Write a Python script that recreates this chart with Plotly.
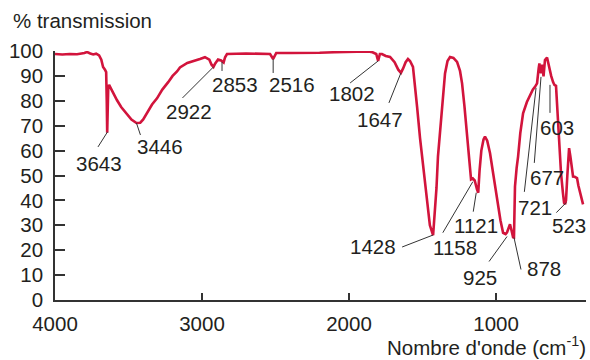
import plotly.graph_objects as go

# IR spectrum: wavenumber (cm-1) vs % transmission
wavenumber = [
    4000, 3950, 3900, 3850, 3800, 3782, 3760, 3740, 3720, 3700, 3685, 3673, 3660, 3652,
    3648, 3645, 3642, 3638, 3632, 3620, 3600, 3578, 3550, 3510, 3480, 3446, 3420, 3400,
    3370, 3340, 3306, 3270, 3230, 3200, 3170, 3150, 3100, 3050, 3014, 2980, 2950, 2935,
    2922, 2910, 2891, 2870, 2853, 2843, 2830, 2700, 2600, 2537, 2516, 2495, 2400, 2300,
    2200, 2100, 2014, 1950, 1900, 1870, 1840, 1815, 1802, 1790, 1776, 1750, 1721, 1690,
    1665, 1647, 1632, 1615, 1599, 1585, 1565, 1550, 1537, 1517, 1503, 1485, 1469, 1450,
    1428, 1415, 1405, 1395, 1380, 1367, 1347, 1330, 1313, 1290, 1265, 1245, 1231, 1215,
    1197, 1180, 1170, 1158, 1145, 1130, 1121, 1112, 1100, 1085, 1075, 1060, 1041, 1020,
    993, 970, 952, 935, 925, 912, 905, 895, 884, 878, 871, 860, 850, 835, 816, 790, 769,
    750, 735, 721, 710, 705, 694, 685, 677, 667, 653, 640, 625, 612, 603, 592, 585, 578,
    568, 558, 545, 537, 530, 524, 515, 503, 495, 483, 476, 465, 449, 440, 429, 415, 408,
]
transmission = [
    98.8, 98.6, 98.8, 98.7, 99.2, 99.6, 99.0, 98.6, 98.9, 98.2, 96.5, 93.6, 92.5, 91.5,
    80.0, 67.2, 75.0, 85.0, 86.4, 85.0, 82.5, 80.2, 77.5, 74.4, 72.5, 71.1, 71.2, 72.5,
    75.5, 78.5, 81.0, 84.5, 87.5, 90.0, 91.8, 93.4, 95.2, 96.3, 96.8, 97.5, 96.5, 94.5,
    93.6, 95.0, 96.6, 96.2, 95.4, 97.5, 98.8, 99.0, 99.0, 98.8, 96.8, 99.2, 99.2, 99.4,
    99.3, 99.5, 99.6, 99.8, 100.0, 99.8, 99.5, 98.8, 96.0, 98.8, 98.8, 98.0, 97.6, 95.5,
    92.5, 91.2, 93.0, 95.5, 96.8, 96.0, 93.6, 86.0, 77.6, 65.0, 57.6, 47.0, 37.6, 30.0,
    26.0, 35.0, 45.0, 57.6, 69.0, 77.6, 91.0, 96.0, 97.6, 97.2, 95.6, 92.0, 87.0, 78.0,
    67.0, 55.0, 48.4, 48.8, 48.0, 44.5, 43.1, 52.0, 60.0, 64.5, 65.6, 64.0, 59.0, 51.0,
    40.4, 32.0, 27.0, 26.5, 27.2, 30.0, 30.4, 28.0, 25.2, 25.1, 45.6, 53.0, 57.6, 67.0,
    75.0, 79.5, 82.4, 84.5, 85.6, 87.0, 93.0, 95.0, 91.0, 94.5, 89.8, 96.4, 97.4, 93.6,
    90.0, 87.5, 86.4, 86.0, 78.0, 69.6, 58.0, 51.0, 43.0, 39.0, 38.5, 40.0, 50.0, 61.0,
    58.0, 53.6, 49.6, 49.5, 49.0, 46.0, 43.0, 40.0, 38.4,
]

# Peak labels (wavenumber) and the transmission where each leader meets the trace
peak_wn = [3643, 3446, 2922, 2853, 2516, 1802, 1647, 1428, 1158, 1121, 925, 878, 721, 677, 603, 523]
peak_t = [67.5, 71.1, 93.6, 95.6, 96.8, 96.0, 91.2, 26.1, 47.5, 43.1, 25.5, 25.1, 85.2, 89.6, 86.4, 39.1]

x_ticks = [4000, 3000, 2000, 1000]
y_ticks = list(range(0, 101, 10))

# Leader geometry in pixels relative to each peak point (dx, dy with dy pointing down):
# (line start dx, line start dy, line end dx, line end dy, text dx, text dy)
leader_px = [
    (0, 0, -9.5, 15, -8, 31.5),
    (0, 0, 4, 12, 24, 24),
    (0, 0, -31, 31, -24.7, 44.5),
    (-1.6, 0, -1.6, 9, 11.4, 22.5),
    (0, 0, 0, 14, 19, 25.5),
    (0, 0, -28, 22, -26.6, 32.5),
    (0, 0, -12, 30, -21, 46.5),
    (0, 0, -31, 12, -60.6, 11.5),
    (0, 0, -30, 51, -17.8, 65.5),
    (-2, 0, -5, 19, -2, 32.5),
    (0, 0, -18, 25, -27, 40.5),
    (0, 0, 7, 32, 30.5, 30.5),
    (-1, 0, -12.7, 104, -1.7, 119.5),
    (-2.5, 0, -9.2, 86, 3.3, 100.5),
    (-4.4, 0, -4.4, 28, 3.1, 42.5),
    (0, 0, -9.8, 10, 3.2, 22.5),
]

FONT = "Liberation Sans, Arial, Helvetica, sans-serif"
INK = "#231f20"
TRACE = "#d2143c"
FS = 20.5

fig = go.Figure()
fig.add_trace(go.Scatter(
    x=wavenumber, y=transmission, mode="lines",
    line=dict(color=TRACE, width=2.6), hoverinfo="skip", showlegend=False,
))

shapes = []
annotations = []
for wn, t, (sx, sy, ex, ey, tx, ty) in zip(peak_wn, peak_t, leader_px):
    shapes.append(dict(
        type="line", xref="x", yref="y", xsizemode="pixel", ysizemode="pixel",
        xanchor=wn, yanchor=t, x0=sx, y0=-sy, x1=ex, y1=-ey,
        line=dict(color="#333333", width=1),
    ))
    annotations.append(dict(
        x=wn, y=t, xref="x", yref="y", text=str(wn), showarrow=False,
        xshift=tx, yshift=-ty, xanchor="center", yanchor="middle",
        font=dict(family=FONT, size=FS, color=INK),
    ))

annotations.append(dict(
    text="% transmission", xref="paper", yref="paper", x=-0.083, y=1.1205,
    xanchor="left", yanchor="middle", showarrow=False,
    font=dict(family=FONT, size=FS, color=INK),
))
annotations.append(dict(
    text="Nombre d'onde (cm<sup>-1</sup>)", xref="paper", yref="paper", x=1.004, y=-0.183,
    xanchor="right", yanchor="middle", showarrow=False,
    font=dict(family=FONT, size=FS, color=INK),
))

fig.update_layout(
    width=590, height=360,
    margin=dict(l=55, r=4, t=51, b=60),
    paper_bgcolor="white", plot_bgcolor="white",
    font=dict(family=FONT, size=FS, color=INK),
    shapes=shapes, annotations=annotations,
    xaxis=dict(
        range=[4000, 388], tickvals=x_ticks, ticktext=[str(v) for v in x_ticks],
        ticks="inside", ticklen=7, tickwidth=1.5, tickcolor="#333333",
        showline=True, linecolor="#333333", linewidth=1.5,
        showgrid=False, zeroline=False, ticklabelstandoff=5,
    ),
    yaxis=dict(
        range=[0, 100], tickvals=y_ticks,
        ticks="inside", ticklen=10, tickwidth=1.5, tickcolor="#333333",
        showline=True, linecolor="#333333", linewidth=1.5,
        showgrid=False, zeroline=False, ticklabelstandoff=6,
    ),
)

fig.write_html("out.html")
